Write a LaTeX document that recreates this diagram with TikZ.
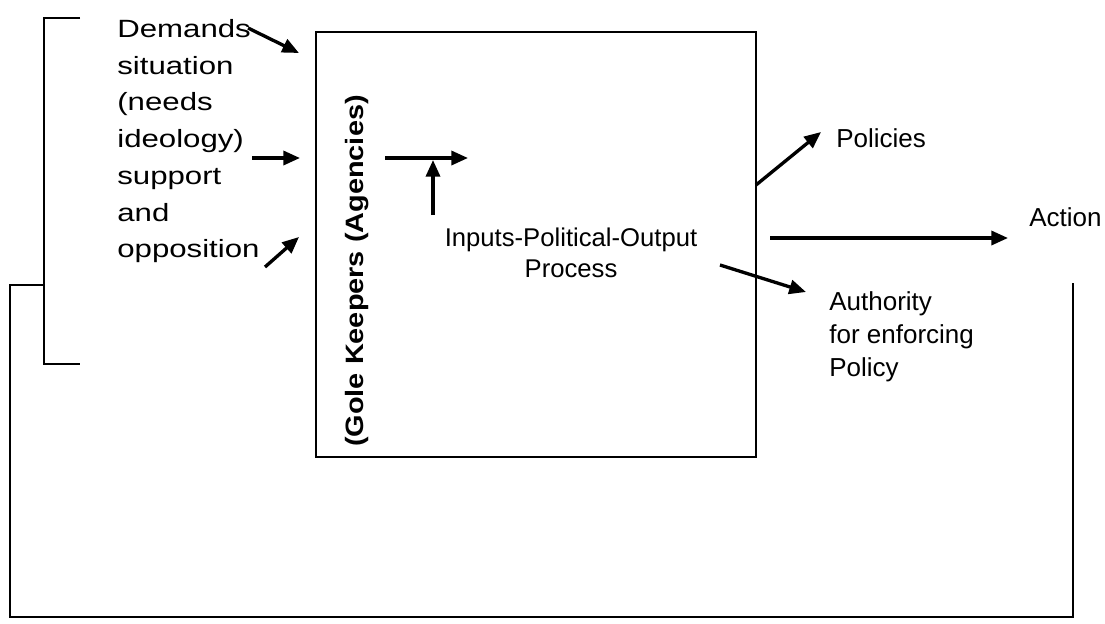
\documentclass[tikz,border=0pt]{standalone}
\usepackage{fontspec}
\setmainfont{Liberation Sans}
\newfontfamily\leftfont[FakeStretch=1.25]{Liberation Sans}
\newfontfamily\gatefont[FakeStretch=1.15]{Liberation Sans}
\usetikzlibrary{arrows.meta}
\begin{document}
\begin{tikzpicture}[x=0.02cm,y=-0.02cm,
  arr/.style={line width=1.9pt,-{Triangle[length=9.5pt,width=8pt]}},
  lne/.style={line width=1.3pt},
  txt/.style={inner sep=0pt,align=left,font=\fontsize{14.8}{18.8}\selectfont}]
\useasboundingbox (0,0) rectangle (1105,623);

%box
\node[lne,draw,minimum width=8.8cm,minimum height=8.5cm] (box) at (536,244.5) {};
\node[rotate=90,anchor=base,inner sep=0pt,font=\gatefont\bfseries\fontsize{14.3}{17}\selectfont] (gate) at (363,271) {(Gole Keepers (Agencies)};
\node[txt,align=center,anchor=north,font=\fontsize{14.6}{17.6}\selectfont] (process) at (571,228) {Inputs-Political-Output\\Process};

%inputs
\node[txt,anchor=north west,font=\leftfont\fontsize{14.2}{20.9}\selectfont] (inputs) at (117,19) {Demands\\situation\\(needs\\ideology)\\support\\and\\opposition};
\coordinate (d0) at (248,28);  \coordinate (d1) at (299,53);
\coordinate (s0) at (252,158); \coordinate (s1) at (300,158);
\coordinate (o0) at (265,267); \coordinate (o1) at (299,237);
\draw[arr] (d0) -- (d1);
\draw[arr] (s0) -- (s1);
\draw[arr] (o0) -- (o1);

%inside
\coordinate (g0) at (385,158); \coordinate (g1) at (468,158);
\coordinate (u0) at (433,215); \coordinate (u1) at (433,160);
\draw[arr] (g0) -- (g1);
\draw[arr] (u0) -- (u1);

%outputs
\node[txt,anchor=north west] (policies) at (836,128) {Policies};
\node[txt,anchor=north west] (action) at (1029,207) {Action};
\node[txt,anchor=north west] (authority) at (829,291) {Authority\\for enforcing\\Policy};
\coordinate (p0) at (756,185);  \coordinate (p1) at (821,132);
\coordinate (a0) at (770,238);  \coordinate (a1) at (1008,238);
\coordinate (e0) at (720,265);  \coordinate (e1) at (806,292);
\draw[arr] (p0) -- (p1);
\draw[arr] (a0) -- (a1);
\draw[arr] (e0) -- (e1);

%feedback
\coordinate (b0) at (80,18); \coordinate (b1) at (80,364);
\coordinate (f0) at (44,285); \coordinate (f1) at (1073,283);
\draw[lne] (b0) -- (44,18) -- (44,364) -- (b1);
\draw[lne] (f0) -- (10,285) -- (10,617) -- (1073,617) -- (f1);

\end{tikzpicture}
\end{document}
